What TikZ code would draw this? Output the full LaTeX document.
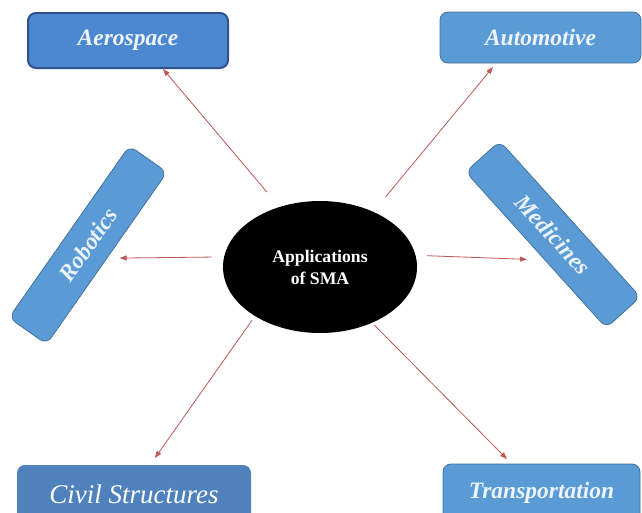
\documentclass[tikz,border=0pt]{standalone}
\usepackage{fontspec}
\setmainfont{Liberation Serif}
\usetikzlibrary{shapes.geometric,arrows.meta,calc}
\definecolor{boxblue}{RGB}{91,155,213}
\definecolor{boxedge}{RGB}{65,113,156}
\definecolor{aeroblue}{RGB}{76,136,208}
\definecolor{aeroedge}{RGB}{47,82,143}
\definecolor{civilblue}{RGB}{79,129,189}
\definecolor{arrowred}{RGB}{188,88,86}
\definecolor{labelwhite}{RGB}{236,243,251}

\begin{document}
\begin{tikzpicture}[x=1pt,y=-1pt,
        field/.style={draw=boxedge, line width=0.8pt, fill=boxblue, rounded corners=8pt, minimum width=200pt, minimum height=52pt, inner sep=0pt, outer sep=0pt, text=labelwhite, font=\fontsize{23.5}{28}\selectfont\bfseries\itshape},
        hub/.style={ellipse, fill=black, minimum width=194pt, minimum height=132pt, inner sep=0pt, outer sep=0pt, align=center, text=white, font=\fontsize{17.7}{22}\selectfont\bfseries},
        arrow/.style={-{Triangle[length=7pt,width=5pt]}, line width=0.8pt, draw=arrowred}
    ]
        \useasboundingbox (0,0) rectangle (642,512);
        \clip (0,0) rectangle (642,512);
        \fill[white] (0,0) rectangle (642,512);

        \node[hub] (sma) at (320,267) {Applications\\of SMA};
        \node[field, draw=aeroedge, line width=2pt, fill=aeroblue, minimum height=55pt] (aero) at (128,40.5) {Aerospace};
        \node[field, minimum width=201pt, minimum height=51pt] (auto) at (540.5,37.5) {Automotive};
        \node[field, minimum width=210pt, minimum height=46pt, rotate=55] (robo) at (88,245) {Robotics};
        \node[field, minimum width=210pt, minimum height=46pt, rotate=-48] (med) at (553,234.5) {Medicines};
        \node[field, draw=none, fill=civilblue, minimum width=234pt, minimum height=58pt, text=white, font=\fontsize{27}{32}\selectfont\itshape] (civil) at (134,494) {Civil Structures};
        \node[field, minimum width=197pt, minimum height=58pt] (trans) at (541.5,493) {Transportation};

        \draw[arrow, shorten <=19.5pt, shorten >=1.3pt] (sma.124) -- ([xshift=34.2pt]aero.south);
        \draw[arrow, shorten <=19.5pt, shorten >=5.2pt] (sma.46) -- ([xshift=-44.2pt]auto.south);
        \draw[arrow, shorten <=12.4pt, shorten >=12.8pt] (sma.174) -- (robo.south);
        \draw[arrow, shorten <=11.4pt, shorten >=18pt] (sma.7) -- ($(med.south)!0.13!(med.south east)$);
        \draw[arrow, shorten <=5pt, shorten >=8.6pt] (sma.217) -- ([xshift=16pt]civil.north);
        \draw[arrow, shorten <=3.5pt, shorten >=7pt] (sma.313) -- ([xshift=-29.6pt]trans.north);
    \end{tikzpicture}
\end{document}
